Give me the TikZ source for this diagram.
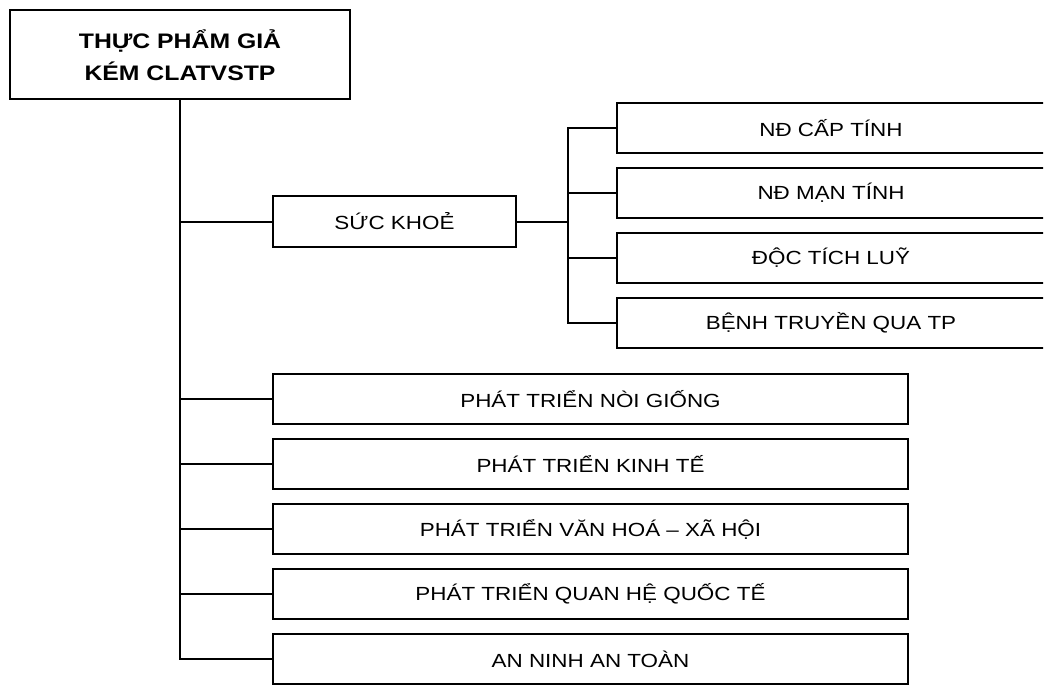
\documentclass[tikz,border=0pt]{standalone}
\usepackage{fontspec}
\setmainfont[FakeStretch=1.18]{Liberation Sans}
\usepackage{tikz}
\usetikzlibrary{positioning}

\begin{document}
\begin{tikzpicture}[
  x=1pt, y=-1pt,
  font=\fontsize{19}{21}\selectfont,
  box/.style={draw, line width=2pt, align=center, minimum height=50pt, inner sep=2pt},
  rootbox/.style={box, minimum width=340pt, minimum height=89pt, font=\fontsize{21}{32}\selectfont\bfseries},
  leaf/.style={box, minimum width=428pt},
  wide/.style={box, minimum width=635pt},
  link/.style={line width=2pt}
]
\useasboundingbox (0,0) rectangle (1049,687);
\clip (0,0) rectangle (1043,687);

\node[rootbox] (root) at (180,55) {THỰC PHẨM GIẢ\\KÉM CLATVSTP};
\node[box, minimum width=243pt, minimum height=51pt] (health) at (394.5,221.5) {SỨC KHOẺ};

\node[leaf] (acute) at (831,128) {NĐ CẤP TÍNH};
\node[leaf] (chronic) at (831,193) {NĐ MẠN TÍNH};
\node[leaf] (accum) at (831,258) {ĐỘC TÍCH LUỸ};
\node[leaf] (disease) at (831,323) {BỆNH TRUYỀN QUA TP};

\node[wide] (race) at (590.5,399) {PHÁT TRIỂN NÒI GIỐNG};
\node[wide] (econ) at (590.5,464) {PHÁT TRIỂN KINH TẾ};
\node[wide] (culture) at (590.5,529) {PHÁT TRIỂN VĂN HOÁ – XÃ HỘI};
\node[wide] (intl) at (590.5,594) {PHÁT TRIỂN QUAN HỆ QUỐC TẾ};
\node[wide] (security) at (590.5,659) {AN NINH AN TOÀN};

\coordinate (fork) at (568,221.5);

\draw[link] (root.south) |- (health.west);
\draw[link] (root.south) |- (race.west);
\draw[link] (root.south) |- (econ.west);
\draw[link] (root.south) |- (culture.west);
\draw[link] (root.south) |- (intl.west);
\draw[link] (root.south) |- (security.west);

\draw[link] (health.east) -- (fork);
\draw[link] (fork) |- (acute.west);
\draw[link] (fork) |- (chronic.west);
\draw[link] (fork) |- (accum.west);
\draw[link] (fork) |- (disease.west);
\end{tikzpicture}
\end{document}
